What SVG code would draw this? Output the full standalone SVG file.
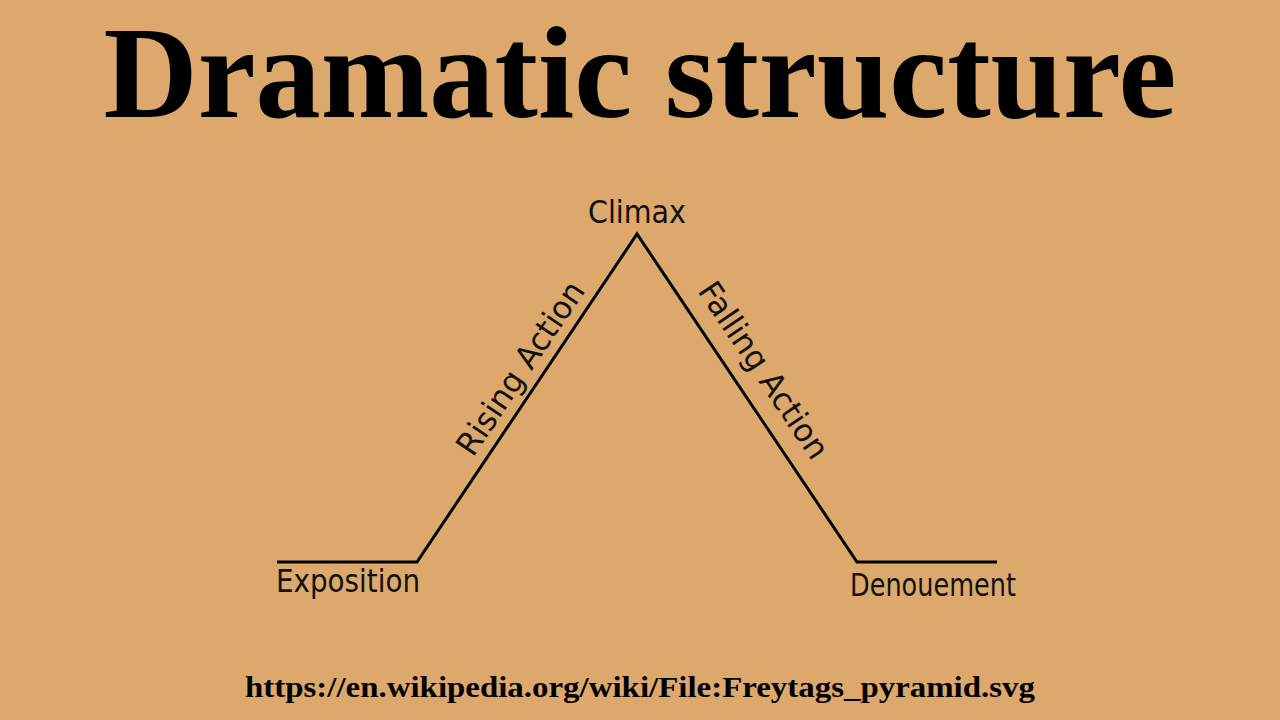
<svg xmlns="http://www.w3.org/2000/svg" width="1280" height="720" viewBox="0 0 1280 720">
<style>
.lbl{font-family:"DejaVu Sans",sans-serif;font-size:32px;fill:#111}
.title{font-family:"Liberation Serif",serif;font-weight:bold;fill:#000}
</style>
<rect width="1280" height="720" fill="#DDA86B"/>
<text class="title" x="640" y="117" font-size="132" text-anchor="middle" textLength="1073" lengthAdjust="spacingAndGlyphs">Dramatic structure</text>
<g id="connectors">
<polyline points="277,562 417,562 637,234 857,562 997,562" fill="none" stroke="#000" stroke-width="3"/>
</g>
<g id="exposition"><text class="lbl" x="276" y="592" textLength="144" lengthAdjust="spacingAndGlyphs">Exposition</text></g>
<g id="climax"><text class="lbl" x="588" y="223" textLength="98" lengthAdjust="spacingAndGlyphs">Climax</text></g>
<g id="denouement"><text class="lbl" x="850" y="596" textLength="166" lengthAdjust="spacingAndGlyphs">Denouement</text></g>
<g id="rising"><text class="lbl" transform="translate(473,458) rotate(-56)" x="0" y="0" textLength="202" lengthAdjust="spacingAndGlyphs">Rising Action</text></g>
<g id="falling"><text class="lbl" transform="translate(697,291) rotate(56)" x="0" y="0" textLength="206" lengthAdjust="spacingAndGlyphs">Falling Action</text></g>
<text x="640" y="697" font-family="Liberation Serif,serif" font-weight="bold" font-size="30" text-anchor="middle" textLength="790" lengthAdjust="spacingAndGlyphs">https://en.wikipedia.org/wiki/File:Freytags_pyramid.svg</text>
</svg>
